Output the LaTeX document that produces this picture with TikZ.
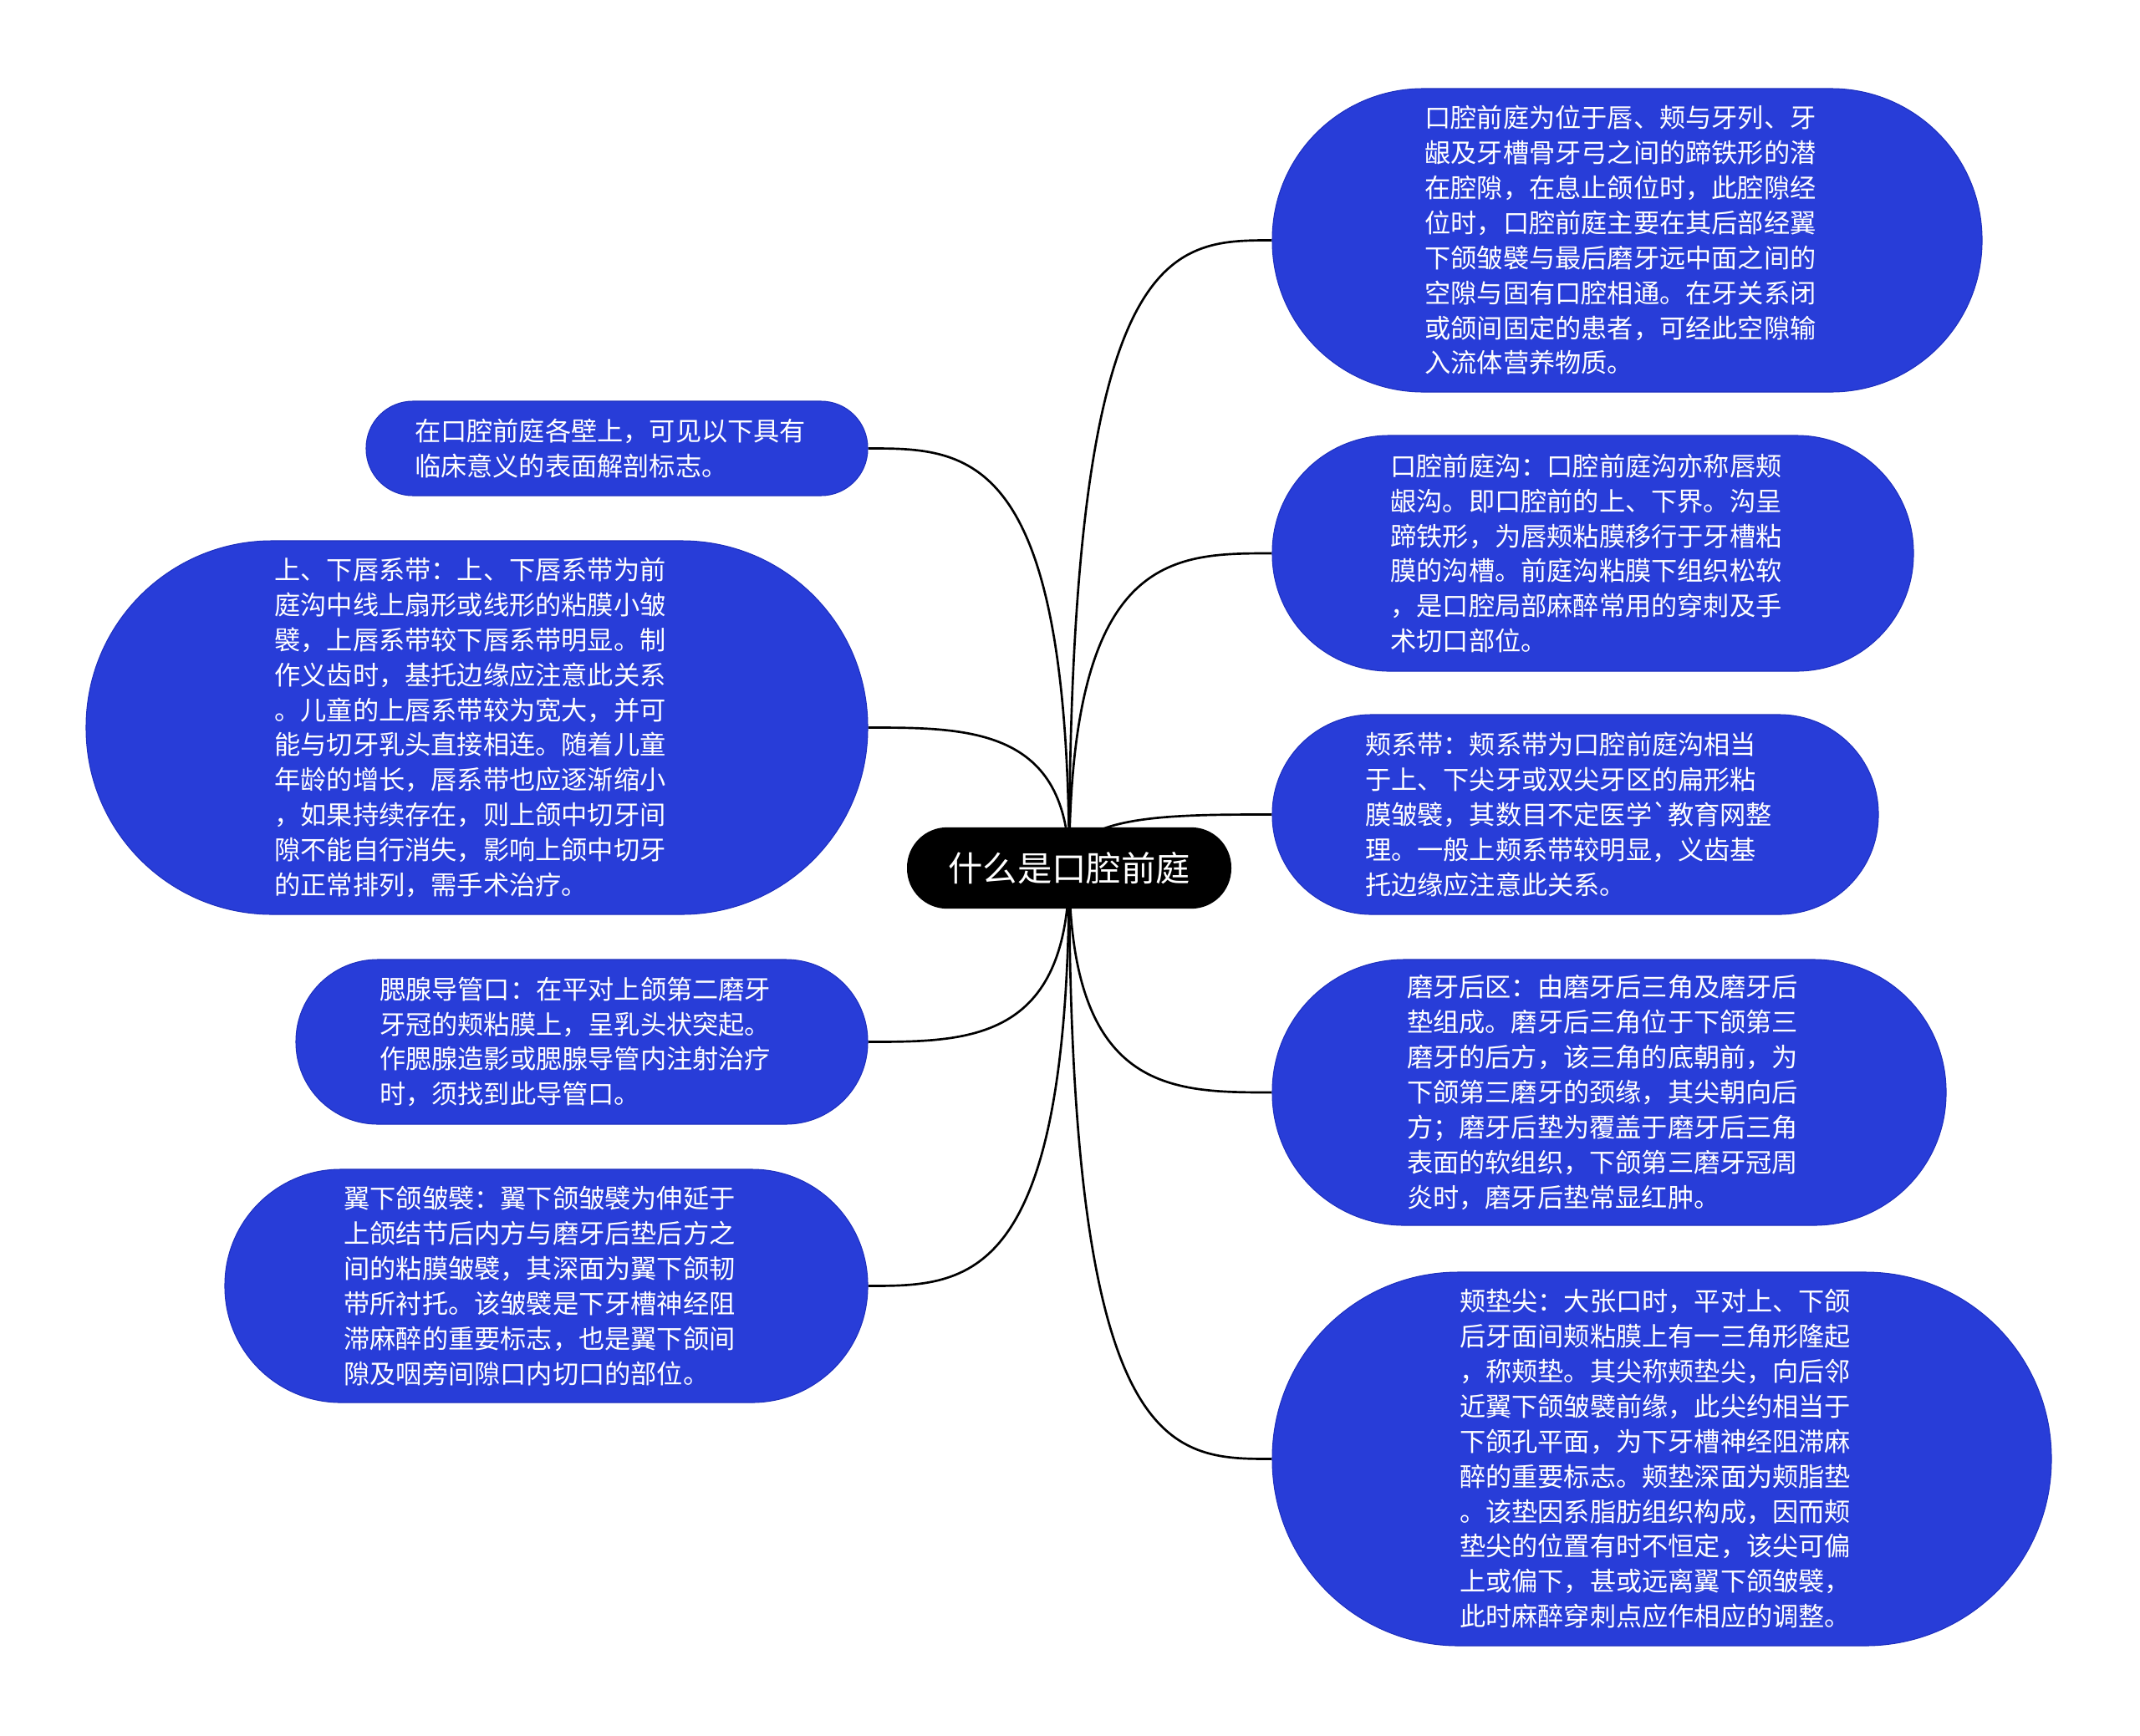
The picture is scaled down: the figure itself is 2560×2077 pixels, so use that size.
\documentclass[tikz,border=0pt]{standalone}
\usepackage{fontspec}
\newfontfamily\cjk{Noto Sans CJK SC}
\usetikzlibrary{calc,backgrounds}
\definecolor{nodeblue}{RGB}{40,61,216}
\definecolor{nodeedge}{RGB}{30,48,190}
\tikzset{
  child/.style={fill=nodeblue, draw=nodeedge, line width=0.8pt, inner sep=0pt},
  childtext/.style={text=white, align=left, inner sep=0pt,
    font=\cjk\fontsize{23.4pt}{31.4pt}\selectfont},
  rootnode/.style={fill=black, text=white, inner sep=0pt, rounded corners=36pt,
    minimum width=291pt, minimum height=73pt, font=\cjk\fontsize{31pt}{36pt}\selectfont},
  conn/.style={draw=black, line width=2pt}
}
\begin{document}
\begin{tikzpicture}[x=0.75pt,y=-0.75pt]
\useasboundingbox (0,0) rectangle (2560,2077);
\node[rootnode] (c) at (1279,1038.5) {什么是口腔前庭};

\node[child, minimum width=636.75pt, minimum height=272.25pt, rounded corners=135.5pt] (r1) at (1946.5,287.5) {};
\node[childtext] (t1) at ($(r1.center)+(-8,0)$)
{口腔前庭为位于唇、颊与牙列、牙\\龈及牙槽骨牙弓之间的蹄铁形的潜\\在腔隙，在息止颌位时，此腔隙经\\位时，口腔前庭主要在其后部经翼\\下颌皱襞与最后磨牙远中面之间的\\空隙与固有口腔相通。在牙关系闭\\或颌间固定的患者，可经此空隙输\\入流体营养物质。};

\node[child, minimum width=575.25pt, minimum height=211.5pt, rounded corners=105pt] (r2) at (1905.5,662) {};
\node[childtext] (t2) at ($(r2.center)+(-8,0)$)
{口腔前庭沟：口腔前庭沟亦称唇颊\\龈沟。即口腔前的上、下界。沟呈\\蹄铁形，为唇颊粘膜移行于牙槽粘\\膜的沟槽。前庭沟粘膜下组织松软\\，是口腔局部麻醉常用的穿刺及手\\术切口部位。};

\node[child, minimum width=543.75pt, minimum height=179.25pt, rounded corners=89pt] (r3) at (1884.5,974.5) {};
\node[childtext] (t3) at ($(r3.center)+(-8,0)$)
{颊系带：颊系带为口腔前庭沟相当\\于上、下尖牙或双尖牙区的扁形粘\\膜皱襞，其数目不定医学{\char96}教育网整\\理。一般上颊系带较明显，义齿基\\托边缘应注意此关系。};

\node[child, minimum width=604.5pt, minimum height=238.5pt, rounded corners=118.5pt] (r4) at (1925,1307) {};
\node[childtext] (t4) at ($(r4.center)+(-8,0)$)
{磨牙后区：由磨牙后三角及磨牙后\\垫组成。磨牙后三角位于下颌第三\\磨牙的后方，该三角的底朝前，为\\下颌第三磨牙的颈缘，其尖朝向后\\方；磨牙后垫为覆盖于磨牙后三角\\表面的软组织，下颌第三磨牙冠周\\炎时，磨牙后垫常显红肿。};

\node[child, minimum width=699pt, minimum height=335.25pt, rounded corners=167pt] (r5) at (1988,1745.5) {};
\node[childtext] (t5) at ($(r5.center)+(-8,0)$)
{颊垫尖：大张口时，平对上、下颌\\后牙面间颊粘膜上有一三角形隆起\\，称颊垫。其尖称颊垫尖，向后邻\\近翼下颌皱襞前缘，此尖约相当于\\下颌孔平面，为下牙槽神经阻滞麻\\醉的重要标志。颊垫深面为颊脂垫\\。该垫因系脂肪组织构成，因而颊\\垫尖的位置有时不恒定，该尖可偏\\上或偏下，甚或远离翼下颌皱襞，\\此时麻醉穿刺点应作相应的调整。};

\node[child, minimum width=450pt, minimum height=84.75pt, rounded corners=42pt] (l1) at (738,536.5) {};
\node[childtext] (t6) at ($(l1.center)+(-8,0)$)
{在口腔前庭各壁上，可见以下具有\\临床意义的表面解剖标志。};

\node[child, minimum width=701.25pt, minimum height=335.25pt, rounded corners=167pt] (l2) at (570.5,870.5) {};
\node[childtext] (t7) at ($(l2.center)+(-8,0)$)
{上、下唇系带：上、下唇系带为前\\庭沟中线上扇形或线形的粘膜小皱\\襞，上唇系带较下唇系带明显。制\\作义齿时，基托边缘应注意此关系\\。儿童的上唇系带较为宽大，并可\\能与切牙乳头直接相连。随着儿童\\年龄的增长，唇系带也应逐渐缩小\\，如果持续存在，则上颌中切牙间\\隙不能自行消失，影响上颌中切牙\\的正常排列，需手术治疗。};

\node[child, minimum width=513pt, minimum height=147.75pt, rounded corners=73.5pt] (l3) at (696,1246.5) {};
\node[childtext] (t8) at ($(l3.center)+(-8,0)$)
{腮腺导管口：在平对上颌第二磨牙\\牙冠的颊粘膜上，呈乳头状突起。\\作腮腺造影或腮腺导管内注射治疗\\时，须找到此导管口。};

\node[child, minimum width=576.75pt, minimum height=209.25pt, rounded corners=104pt] (l4) at (653.5,1538.5) {};
\node[childtext] (t9) at ($(l4.center)+(-8,0)$)
{翼下颌皱襞：翼下颌皱襞为伸延于\\上颌结节后内方与磨牙后垫后方之\\间的粘膜皱襞，其深面为翼下颌韧\\带所衬托。该皱襞是下牙槽神经阻\\滞麻醉的重要标志，也是翼下颌间\\隙及咽旁间隙口内切口的部位。};

\begin{scope}[on background layer]
\foreach \n in {r1,r2,r3,r4,r5}{
  \draw[conn] (c.center) .. controls (c.center |- \n.west) and ($(c.center |- \n.west)!0.5!(\n.west)$) .. (\n.west);
}
\foreach \n in {l1,l2,l3,l4}{
  \draw[conn] (c.center) .. controls (c.center |- \n.east) and ($(c.center |- \n.east)!0.5!(\n.east)$) .. (\n.east);
}
\end{scope}
\end{tikzpicture}
\end{document}
